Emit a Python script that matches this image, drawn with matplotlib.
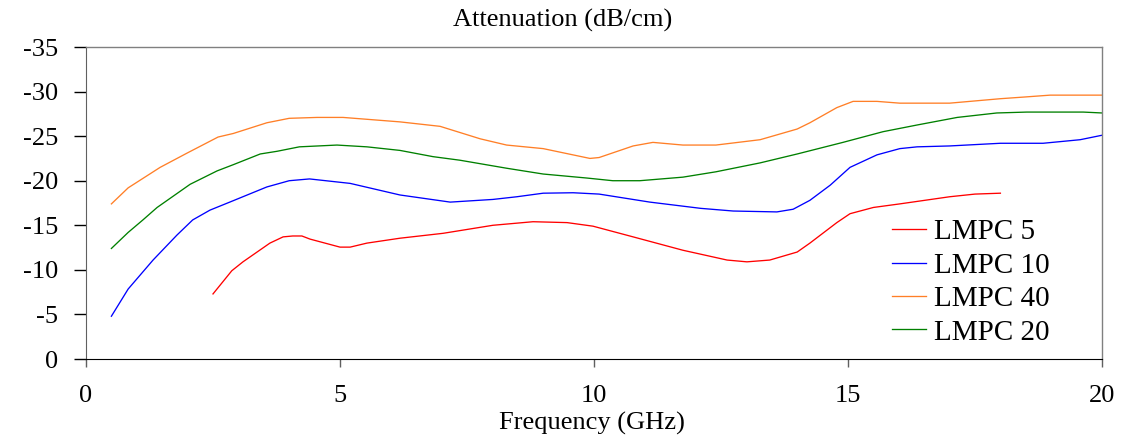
import matplotlib
matplotlib.use("Agg")
import matplotlib.pyplot as plt

plt.rcParams['font.family'] = ['Liberation Serif', 'DejaVu Serif']
plt.rcParams['axes.unicode_minus'] = False

title = "Attenuation (dB/cm)"
xlabel = "Frequency (GHz)"
xticks = [0, 5, 10, 15, 20]
yticks = [0, -5, -10, -15, -20, -25, -30, -35]

# LMPC 5 (red)
f5 = [2.5, 2.87, 3.09, 3.62, 3.88, 4.07, 4.25, 4.41, 5.0, 5.2, 5.53, 6.18, 7.03, 8.01, 8.8, 9.47,
      9.98, 10.77, 11.75, 12.62, 13.01, 13.46, 14.0, 14.25, 14.78, 15.04, 15.5, 16.02, 17.0, 17.5, 18.0]
a5 = [-7.3, -9.9, -10.9, -13.0, -13.7, -13.8, -13.8, -13.45, -12.55, -12.55, -13.0, -13.55, -14.1, -15.0,
      -15.4, -15.3, -14.9, -13.7, -12.2, -11.1, -10.9, -11.1, -12.0, -13.0, -15.3, -16.3, -17.0, -17.4,
      -18.2, -18.5, -18.6]

# LMPC 10 (blue)
f10 = [0.5, 0.83, 1.32, 1.79, 2.1, 2.44, 2.83, 3.56, 4.0, 4.4, 5.2, 6.18, 7.17, 8.01, 8.48, 9.0, 9.59,
       10.1, 11.1, 12.1, 12.74, 13.6, 13.92, 14.25, 14.65, 15.04, 15.57, 16.02, 16.36, 17.0, 18.0, 18.84,
       19.57, 20.0]
a10 = [-4.8, -7.85, -11.1, -13.9, -15.6, -16.7, -17.6, -19.3, -20.0, -20.2, -19.7, -18.4, -17.6, -17.9,
       -18.2, -18.6, -18.65, -18.5, -17.6, -16.9, -16.6, -16.5, -16.8, -17.8, -19.5, -21.5, -22.9, -23.6,
       -23.8, -23.9, -24.2, -24.2, -24.6, -25.1]

# LMPC 40 (orange)
f40 = [0.5, 0.83, 1.46, 1.99, 2.6, 2.9, 3.56, 4.0, 4.55, 5.06, 6.18, 6.97, 7.76, 8.28, 9.0, 9.92, 10.1,
       10.77, 11.16, 11.75, 12.4, 13.27, 14.0, 14.25, 14.78, 15.1, 15.57, 16.02, 17.0, 18.0, 18.5, 18.98, 20.0]
a40 = [-17.4, -19.2, -21.5, -23.1, -24.9, -25.3, -26.5, -27.0, -27.1, -27.1, -26.6, -26.1, -24.7, -24.0,
       -23.6, -22.5, -22.6, -23.9, -24.3, -24.0, -24.0, -24.6, -25.8, -26.5, -28.2, -28.9, -28.9, -28.7,
       -28.7, -29.2, -29.4, -29.6, -29.6]

# LMPC 20 (green)
f20 = [0.5, 0.83, 1.12, 1.4, 2.05, 2.58, 2.9, 3.43, 3.76, 4.2, 4.94, 5.53, 6.18, 6.83, 7.36, 8.28, 9.0,
       9.86, 10.37, 10.9, 11.75, 12.4, 13.27, 14.0, 14.9, 15.69, 16.36, 17.15, 17.93, 18.52, 19.63, 20.0]
a20 = [-12.4, -14.2, -15.6, -17.0, -19.6, -21.1, -21.8, -23.0, -23.3, -23.8, -24.0, -23.8, -23.4, -22.7,
       -22.3, -21.4, -20.75, -20.3, -20.0, -20.0, -20.4, -21.0, -22.0, -23.0, -24.3, -25.5, -26.25, -27.1,
       -27.6, -27.7, -27.7, -27.6]

series = [
    ("LMPC 5", f5, a5, "#ff0000"),
    ("LMPC 10", f10, a10, "#0000ff"),
    ("LMPC 40", f40, a40, "#ff7f27"),
    ("LMPC 20", f20, a20, "#008000"),
]

W, H = 1124, 438
fig = plt.figure(figsize=(W / 100, H / 100), dpi=100)
ax = fig.add_axes([86 / W, 1 - 359 / H, (1102 - 86) / W, (359 - 47) / H])

for name, f, a, c in series:
    ax.plot(f, a, color=c, lw=0.95, label=name)

ax.set_xlim(0, 20)
ax.set_ylim(0, -35)
ax.set_xticks(xticks)
ax.set_yticks(yticks)
ax.set_yticklabels([str(v) for v in yticks])

for s in ['top', 'right']:
    ax.spines[s].set_color('#808080')
    ax.spines[s].set_linewidth(1.0)
ax.spines['left'].set_color('#606060')
ax.spines['bottom'].set_color('black')

ax.tick_params(axis='y', direction='out', length=9, width=1, pad=11, labelsize=19)
ax.tick_params(axis='x', direction='out', length=6, width=1, pad=13, labelsize=19, color='#606060')

fig.text(0.5 * (415 + 710) / W, 1 - 20 / H, title, ha='center', va='center', fontsize=19)
fig.text(0.5 * (465 + 718) / W, 1 - 423 / H, xlabel, ha='center', va='center', fontsize=19)

ax.legend(loc='upper left', bbox_to_anchor=(892 / W, 1 - 219 / H), bbox_transform=fig.transFigure,
          frameon=False, fontsize=21, borderpad=0, borderaxespad=0,
          handlelength=1.15, handletextpad=0.3, labelspacing=0.24)

fig.savefig("out.png", dpi=100)
